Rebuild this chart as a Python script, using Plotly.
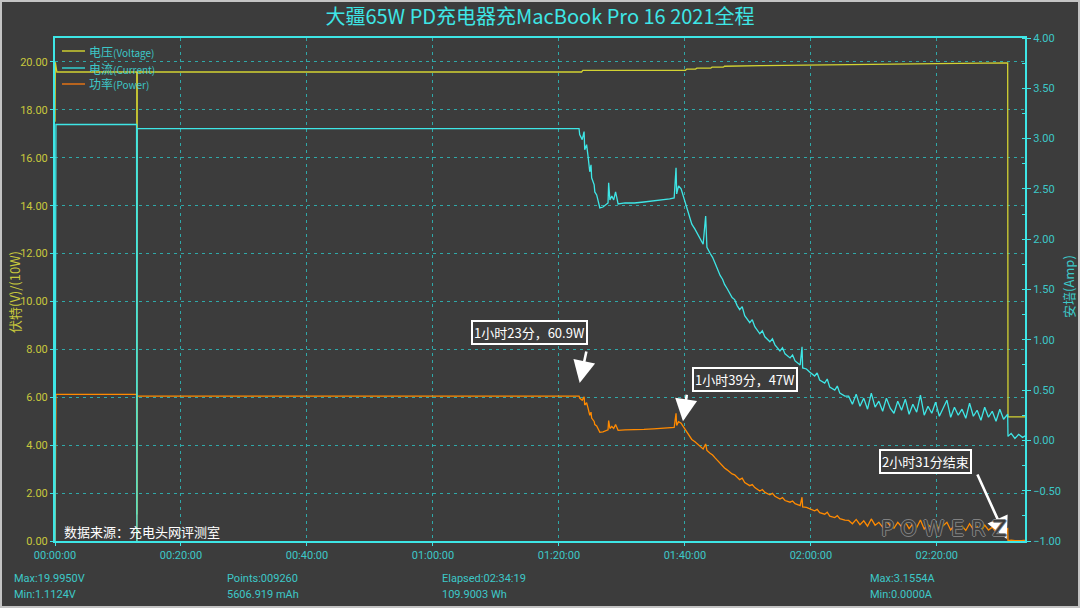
import plotly.graph_objects as go

# ---------------- data (minutes since start) ----------------
tick_minutes = [0, 20, 40, 60, 80, 100, 120, 140]
tick_labels = ["00:00:00", "00:20:00", "00:40:00", "01:00:00", "01:20:00", "01:40:00", "02:00:00", "02:20:00"]

# Voltage (V) – left axis
volt_t = [0.0, 0.05, 0.3, 12.98, 13.0, 13.06, 83.6, 83.8, 100.1, 100.3, 101.7, 101.9,
          104.1, 104.3, 106.1, 106.3, 112.0, 120.0, 130.0, 140.0, 151.25, 151.3, 154.3]
volt_v = [17.5, 19.99, 19.58, 19.58, 1.11, 19.58, 19.58, 19.65, 19.65, 19.70, 19.70, 19.74,
          19.74, 19.78, 19.78, 19.82, 19.85, 19.88, 19.91, 19.93, 19.96, 5.18, 5.18]

# Current (A, right axis) and power (x10 W, left axis) on a shared time base
seg0_t = [0.0, 0.15, 12.95, 13.0, 13.05]
seg0_i = [-1.0, 3.14, 3.14, -1.0, 3.10]
seg0_p = [0.0, 6.12, 6.12, 0.0, 6.05]

segB_t = [83.2, 83.3, 83.7, 84.0, 84.1, 84.4, 84.6, 84.9, 85.1, 85.2,
          85.6, 85.7, 86.0, 86.2, 86.5, 87.0, 87.5, 87.8, 87.9, 88.1,
          88.4, 88.7, 89.0, 89.4, 90.5, 92.0, 93.5, 95.0, 96.5, 97.6,
          98.3, 98.6, 98.7, 99.0, 99.4, 99.7]
segB_i = [3.10, 3.04, 2.99, 3.07, 2.89, 2.94, 2.84, 2.67, 2.74, 2.61,
          2.54, 2.47, 2.44, 2.39, 2.31, 2.32, 2.34, 2.36, 2.56, 2.39,
          2.43, 2.39, 2.47, 2.35, 2.36, 2.36, 2.37, 2.38, 2.39, 2.40,
          2.41, 2.71, 2.45, 2.53, 2.50, 2.44]
segB_p = [6.05, 5.97, 5.88, 6.02, 5.68, 5.77, 5.58, 5.25, 5.38, 5.13,
          4.99, 4.86, 4.80, 4.70, 4.54, 4.56, 4.60, 4.64, 5.03, 4.70,
          4.78, 4.70, 4.86, 4.62, 4.64, 4.64, 4.66, 4.68, 4.70, 4.72,
          4.74, 5.33, 4.82, 4.98, 4.92, 4.80]

segC_t = [100.0, 100.3, 100.6, 101.1, 101.6, 102.1, 102.4, 102.9, 103.3, 103.5,
          104.0, 104.4, 104.8, 105.2, 105.6, 106.0, 106.3, 106.7, 107.1, 107.5,
          107.9, 108.3, 108.7, 109.1, 109.5, 110.3, 110.7, 111.1, 111.9, 112.3,
          112.7, 113.5, 113.9, 114.3, 115.1, 115.5, 115.9, 116.7, 117.1, 117.5,
          118.3, 118.6, 118.7, 119.3, 119.8, 120.6, 121.0, 121.4, 122.2, 122.6,
          123.0, 123.8, 124.2, 124.6, 125.4]
segC_i = [2.37, 2.30, 2.24, 2.15, 2.10, 2.04, 2.00, 1.95, 2.23, 1.92,
          1.86, 1.82, 1.76, 1.70, 1.64, 1.60, 1.55, 1.51, 1.46, 1.42,
          1.40, 1.34, 1.30, 1.33, 1.24, 1.17, 1.20, 1.13, 1.06, 1.09,
          1.03, 0.98, 1.01, 0.95, 0.89, 0.92, 0.86, 0.82, 0.85, 0.79,
          0.75, 0.93, 0.72, 0.71, 0.68, 0.64, 0.67, 0.60, 0.57, 0.61,
          0.53, 0.50, 0.54, 0.47, 0.44]
segC_p = [4.67, 4.53, 4.41, 4.24, 4.14, 4.02, 3.94, 3.84, 4.05, 3.78,
          3.66, 3.59, 3.47, 3.35, 3.23, 3.15, 3.05, 2.97, 2.88, 2.80,
          2.76, 2.64, 2.56, 2.62, 2.44, 2.31, 2.36, 2.23, 2.09, 2.15,
          2.03, 1.93, 1.99, 1.87, 1.75, 1.81, 1.69, 1.62, 1.67, 1.56,
          1.48, 1.83, 1.42, 1.40, 1.34, 1.26, 1.32, 1.18, 1.12, 1.20,
          1.04, 0.98, 1.06, 0.93, 0.87]

segD_t = [126.0, 126.6, 127.2, 127.8, 128.4, 129.0, 129.6, 130.2, 130.8, 131.4,
          132.0, 132.6, 133.2, 133.8, 134.4, 135.0, 135.6, 136.2, 136.8, 137.4,
          138.0, 138.6, 139.2, 139.8, 140.4, 141.0, 141.6, 142.2, 142.8, 143.4,
          144.0, 144.6, 145.2, 145.8, 146.4, 147.0, 147.6, 148.2, 148.8, 149.4,
          150.0, 150.6, 151.25, 151.3, 151.8, 152.4, 153.0, 153.6, 154.2]
segD_i = [0.44, 0.36, 0.46, 0.34, 0.42, 0.31, 0.47, 0.33, 0.39, 0.29,
          0.42, 0.32, 0.27, 0.39, 0.30, 0.41, 0.26, 0.36, 0.28, 0.45,
          0.25, 0.34, 0.27, 0.38, 0.24, 0.32, 0.40, 0.23, 0.33, 0.25,
          0.31, 0.22, 0.37, 0.24, 0.30, 0.20, 0.33, 0.23, 0.29, 0.19,
          0.31, 0.21, 0.26, 0.04, 0.07, 0.02, 0.06, 0.03, 0.05]
segD_p = [0.86, 0.72, 0.90, 0.68, 0.84, 0.62, 0.92, 0.66, 0.78, 0.58,
          0.82, 0.64, 0.54, 0.78, 0.60, 0.80, 0.52, 0.72, 0.56, 0.88,
          0.50, 0.68, 0.54, 0.76, 0.48, 0.64, 0.78, 0.46, 0.66, 0.50,
          0.62, 0.44, 0.72, 0.48, 0.60, 0.40, 0.66, 0.46, 0.58, 0.38,
          0.62, 0.42, 0.52, 0.02, 0.04, 0.01, 0.03, 0.02, 0.03]

series_names = ["电压(Voltage)", "电流(Current)", "功率(Power)"]
stats_row1 = ["Max:19.9950V", "Points:009260", "Elapsed:02:34:19", "Max:3.1554A"]
stats_row2 = ["Min:1.1124V", "5606.919 mAh", "109.9003 Wh", "Min:0.0000A"]

# ---------------- styling ----------------
BG = "#3c3c3c"
CYAN = "#3ee6e6"
CYAN_TXT = "#3cc8c8"
YELLOW = "#d2d232"
YELLOW_TXT = "#c8c83c"
ORANGE = "#ff8a00"
GRID = "#2fa8a8"
CJK = "Noto Sans CJK SC, Noto Sans, sans-serif"
NARROW = "Liberation Sans Narrow, Roboto, Noto Sans CJK SC, sans-serif"

ci_t = seg0_t + segB_t + segC_t + segD_t
ci_i = seg0_i + segB_i + segC_i + segD_i
ci_p = seg0_p + segB_p + segC_p + segD_p

fig = go.Figure()
fig.add_trace(go.Scatter(x=ci_t, y=ci_i, name=series_names[1], mode="lines",
                         line=dict(color=CYAN, width=1.3), yaxis="y2", showlegend=False))
fig.add_trace(go.Scatter(x=ci_t, y=ci_p, name=series_names[2], mode="lines",
                         line=dict(color=ORANGE, width=1.3), showlegend=False))
fig.add_trace(go.Scatter(x=volt_t, y=volt_v, name=series_names[0], mode="lines",
                         line=dict(color=YELLOW, width=1.3), showlegend=False))

W_PLOT = 970.0
H_PLOT = 503.0
def px(xp):
    return (xp - 55) / W_PLOT
def py(yp):
    return (541 - yp) / H_PLOT

annotations = []
shapes = []

# manual legend
leg_colors = ["#a8a832", "#34a8a8", "#b8641e"]
leg_y = [51, 68, 84]
for name, col, yy in zip(series_names, leg_colors, leg_y):
    shapes.append(dict(type="line", xref="paper", yref="paper", x0=px(62), x1=px(85),
                       y0=py(yy), y1=py(yy), line=dict(color=col, width=2)))
    main, rest = name.split("(")
    annotations.append(dict(xref="paper", yref="paper", x=px(87), y=py(yy), xanchor="left",
                            yanchor="middle", showarrow=False,
                            text=main + '<span style="font-size:10px">(' + rest + '</span>',
                            font=dict(family=CJK, size=12, color=CYAN_TXT)))

# callout boxes
boxes = [("1小时23分，60.9W", 529, 332), ("1小时39分，47W", 745, 379), ("2小时31分结束", 925, 461)]
for txt, bx, by in boxes:
    annotations.append(dict(xref="paper", yref="paper", x=px(bx), y=py(by), showarrow=False,
                            xanchor="center", yanchor="middle",
                            text=txt, font=dict(family=CJK, size=13, color="white"),
                            bgcolor=BG, bordercolor="white", borderwidth=2, borderpad=1))
# arrows (tip in data coords, tail offset in pixels)
arrows = [(83.3, 6.6, 7, -33), (99.7, 5.0, 4, -28), (151.1, 0.08, -30, -66)]
for ax_t, ay_v, dx, dy in arrows:
    annotations.append(dict(x=ax_t, y=ay_v, xref="x", yref="y", ax=dx, ay=dy, text="",
                            showarrow=True, arrowhead=2, arrowsize=1.7, arrowwidth=2.6,
                            arrowcolor="white"))

# data source
annotations.append(dict(xref="paper", yref="paper", x=px(62), y=py(531), xanchor="left",
                        yanchor="middle", showarrow=False, text="数据来源：充电头网评测室",
                        font=dict(family=CJK, size=13, color="white")))
# watermark
annotations.append(dict(xref="paper", yref="paper", x=px(944), y=py(529), showarrow=False,
                        xanchor="center", yanchor="middle",
                        text="P O W E R Z",
                        font=dict(family="DejaVu Sans, sans-serif", size=21, color=BG,
                                  shadow="1px 0 0 #808080, -1px 0 0 #808080, 0 1px 0 #808080, 0 -1px 0 #808080")))

# axis titles
annotations.append(dict(xref="paper", yref="paper", x=px(14), y=py(292), textangle=-90,
                        xanchor="center", yanchor="middle",
                        showarrow=False, text="伏特(V)/(10W)",
                        font=dict(family=CJK, size=13, color=YELLOW_TXT)))
annotations.append(dict(xref="paper", yref="paper", x=px(1068), y=py(287), textangle=-90,
                        xanchor="center", yanchor="middle",
                        showarrow=False, text="安培(Amp)",
                        font=dict(family=CJK, size=13, color=CYAN_TXT)))

# bottom statistics
stat_x = [12, 225, 440, 868]
for sx, s1, s2 in zip(stat_x, stats_row1, stats_row2):
    annotations.append(dict(xref="paper", yref="paper", x=px(sx), y=py(578), xanchor="left",
                            yanchor="middle", showarrow=False, text=s1,
                            font=dict(family=NARROW, size=11, color=CYAN_TXT)))
    annotations.append(dict(xref="paper", yref="paper", x=px(sx), y=py(594), xanchor="left",
                            yanchor="middle", showarrow=False, text=s2,
                            font=dict(family=NARROW, size=11, color=CYAN_TXT)))

# outer frame
shapes.append(dict(type="rect", xref="paper", yref="paper", x0=-55 / W_PLOT, x1=1 + 55 / W_PLOT,
                   y0=-67 / H_PLOT, y1=1 + 38 / H_PLOT, line=dict(color="#c4c4c4", width=4),
                   layer="above"))

fig.update_layout(
    width=1080, height=608,
    paper_bgcolor=BG, plot_bgcolor=BG,
    margin=dict(l=55, r=55, t=38, b=67),
    title=dict(text="大疆65W PD充电器充MacBook Pro 16 2021全程", x=0.5, xanchor="center",
               y=1 - 17 / 608, yanchor="middle", yref="container",
               font=dict(family=CJK, size=20, color=CYAN)),
    xaxis=dict(range=[0, 154.0], tickvals=tick_minutes, ticktext=tick_labels,
               showgrid=True, gridcolor=GRID, griddash="3px,4px", gridwidth=1,
               showline=True, linecolor=CYAN, linewidth=2, mirror=True,
               ticks="outside", ticklen=3, tickcolor=CYAN,
               tickfont=dict(family=NARROW, size=11, color=CYAN_TXT), zeroline=False),
    yaxis=dict(range=[0, 21], dtick=2, tick0=0, tickformat=".2f",
               showgrid=True, gridcolor=GRID, griddash="3px,4px", gridwidth=1,
               showline=True, linecolor=CYAN, linewidth=2,
               ticks="outside", ticklen=3, tickcolor=CYAN,
               tickfont=dict(family=NARROW, size=11, color=YELLOW_TXT), zeroline=False),
    yaxis2=dict(range=[-1, 4], dtick=0.5, tick0=0, tickformat=".2f", overlaying="y",
                side="right", showgrid=False, showline=True, linecolor=CYAN, linewidth=2,
                ticks="outside", ticklen=4, tickcolor=CYAN,
                minor=dict(dtick=0.25, ticks="inside", ticklen=3, tickcolor=CYAN),
                tickfont=dict(family=NARROW, size=11, color=CYAN_TXT), zeroline=False),
    showlegend=False,
    annotations=annotations,
    shapes=shapes,
)

fig.write_html("out.html", config={"displayModeBar": False},
               post_script="document.body.style.margin='0';document.body.style.overflow='hidden';")
